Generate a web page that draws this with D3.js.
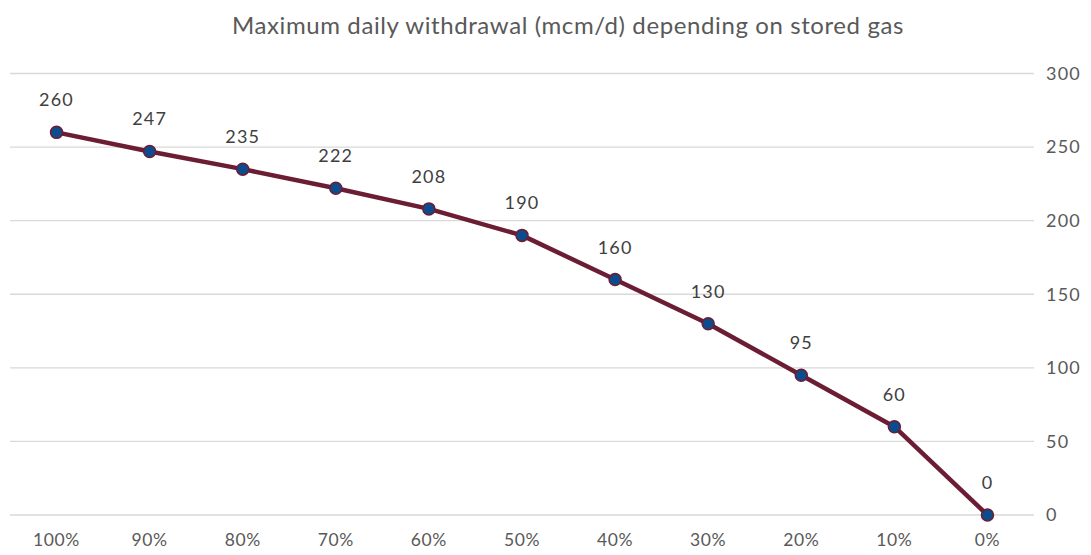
<!DOCTYPE html>
<html>
<head>
<meta charset="utf-8">
<script src="https://cdn.jsdelivr.net/npm/d3@7"></script>
<style>
  html, body { margin: 0; padding: 0; background: #fff; }
  svg { display: block; font-family: "Gill Sans", "Lato", "Open Sans", sans-serif; }
</style>
</head>
<body>
<svg id="chart" width="1091" height="555"></svg>
<script>
// Stored gas level (share of capacity) and maximum daily withdrawal (mcm/d)
const storageLevels = ["100%", "90%", "80%", "70%", "60%", "50%", "40%", "30%", "20%", "10%", "0%"];
const withdrawal = [260, 247, 235, 222, 208, 190, 160, 130, 95, 60, 0];
const yTicks = [0, 50, 100, 150, 200, 250, 300];

const svg = d3.select("#chart");
const plotLeft = 10, plotRight = 1034, plotTop = 73.5, plotBottom = 515;
const fontStack = "Gill Sans, Lato, Open Sans, sans-serif";

const x = d3.scaleBand().domain(storageLevels).range([plotLeft, plotRight]).padding(0);
const y = d3.scaleLinear().domain([0, 300]).range([plotBottom, plotTop]);
const cx = d => x(d) + x.bandwidth() / 2;

// Title
svg.append("text")
  .attr("x", 568).attr("y", 34)
  .attr("text-anchor", "middle")
  .attr("fill", "#595959")
  .attr("font-size", 24)
  .attr("letter-spacing", 0.6)
  .text("Maximum daily withdrawal (mcm/d) depending on stored gas");

// Horizontal gridlines
svg.append("g").selectAll("line").data(yTicks).join("line")
  .attr("x1", plotLeft).attr("x2", plotRight)
  .attr("y1", d => y(d)).attr("y2", d => y(d))
  .attr("stroke", "#d9d9d9").attr("stroke-width", 1.3);

// Right value axis
const yAxis = svg.append("g")
  .attr("transform", `translate(${plotRight},0)`)
  .call(d3.axisRight(y).tickValues(yTicks).tickSize(0).tickPadding(12));
yAxis.select(".domain").remove();
yAxis.selectAll("text").attr("fill", "#595959").attr("font-size", 18)
  .attr("letter-spacing", 1.2).attr("font-family", fontStack);

// Category axis
const xAxis = svg.append("g")
  .attr("transform", `translate(0,${plotBottom})`)
  .call(d3.axisBottom(x).tickSize(0).tickPadding(19));
xAxis.select(".domain").remove();
xAxis.selectAll("text").attr("fill", "#595959").attr("font-size", 17.5)
  .attr("letter-spacing", 0.6).attr("font-family", fontStack);

const pts = storageLevels.map((c, i) => ({ c, v: withdrawal[i] }));

// Withdrawal curve
svg.append("path")
  .datum(pts)
  .attr("fill", "none")
  .attr("stroke", "#6b1d34")
  .attr("stroke-width", 4.5)
  .attr("stroke-linejoin", "round")
  .attr("d", d3.line().x(d => cx(d.c)).y(d => y(d.v)));

// Markers
svg.append("g").selectAll("circle").data(pts).join("circle")
  .attr("cx", d => cx(d.c)).attr("cy", d => y(d.v))
  .attr("r", 6)
  .attr("fill", "#0d4c8c")
  .attr("stroke", "#6b1d34").attr("stroke-width", 1.5);

// Value labels above each point
svg.append("g").selectAll("text").data(pts).join("text")
  .attr("x", d => cx(d.c)).attr("y", d => y(d.v) - 26)
  .attr("text-anchor", "middle")
  .attr("fill", "#404040")
  .attr("font-size", 18)
  .attr("letter-spacing", 1.2)
  .text(d => d.v);
</script>
</body>
</html>
